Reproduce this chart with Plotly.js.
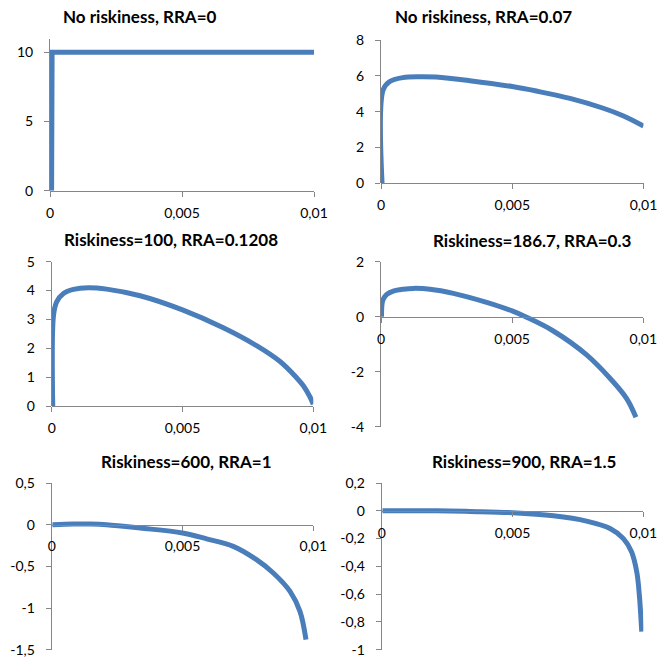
<!DOCTYPE html>
<html>
<head>
<meta charset="utf-8">
<script src="https://cdn.plot.ly/plotly-3.0.1.min.js"></script>
<style>html,body{margin:0;padding:0;background:#fff;}#chart{width:658px;height:662px;}</style>
</head>
<body>
<div id="chart"></div>
<script>
// ---- data ----
var titles = [
  "No riskiness, RRA=0",
  "No riskiness, RRA=0.07",
  "Riskiness=100, RRA=0.1208",
  "Riskiness=186.7, RRA=0.3",
  "Riskiness=600, RRA=1",
  "Riskiness=900, RRA=1.5"
];

var xP1 = [0.00006, 0.00008, 0.01];
var yP1 = [0, 10, 10];

var xP2 = [0.00004, 0.00008, 0.00032, 0.00083, 0.00146, 0.0021, 0.00338, 0.005, 0.00592, 0.0072, 0.00847, 0.00924, 0.01];
var yP2 = [0, 5.21, 5.67, 5.9, 5.95, 5.93, 5.73, 5.40, 5.15, 4.74, 4.19, 3.76, 3.2];

var xP3 = [0.00004, 0.00007, 0.00019, 0.00045, 0.00083, 0.0014, 0.0021, 0.00338, 0.005, 0.00656, 0.00783, 0.00873, 0.00936, 0.00962, 0.00987, 0.01];
var yP3 = [0, 3.15, 3.61, 3.9, 4.04, 4.1, 4.05, 3.82, 3.33, 2.71, 2.09, 1.54, 0.98, 0.7, 0.32, 0.06];

var xP4 = [0.00002, 0.00007, 0.00022, 0.00047, 0.00085, 0.00123, 0.00187, 0.00276, 0.00403, 0.005, 0.00555, 0.00657, 0.00784, 0.00873, 0.00936, 0.00972];
var yP4 = [0, 0.6, 0.81, 0.93, 1.0, 1.03, 1.0, 0.85, 0.52, 0.21, -0.02, -0.52, -1.39, -2.24, -2.97, -3.66];

var xP5 = [0.00003, 0.00083, 0.00146, 0.0021, 0.00338, 0.005, 0.00592, 0.00694, 0.00783, 0.00847, 0.00911, 0.00949, 0.00972];
var yP5 = [0, 0.008, 0.008, 0, -0.04, -0.1, -0.17, -0.26, -0.42, -0.58, -0.8, -1.04, -1.38];

var xP6 = [0.00003, 0.0021, 0.00338, 0.005, 0.00656, 0.00783, 0.00873, 0.00924, 0.00955, 0.00975, 0.00985, 0.00994];
var yP6 = [0, 0, -0.005, -0.014, -0.036, -0.074, -0.127, -0.2, -0.295, -0.44, -0.61, -0.87];

var xTickVals = [0, 0.005, 0.01];
var xTickText = ["0", "0,005", "0,01"];

var yTickVals = [
  [0, 5, 10],
  [0, 2, 4, 6, 8],
  [0, 1, 2, 3, 4, 5],
  [-4, -2, 0, 2],
  [-1.5, -1, -0.5, 0, 0.5],
  [-1, -0.8, -0.6, -0.4, -0.2, 0, 0.2]
];
var yTickText = [
  ["0", "5", "10"],
  ["0", "2", "4", "6", "8"],
  ["0", "1", "2", "3", "4", "5"],
  ["-4", "-2", "0", "2"],
  ["-1,5", "-1", "-0,5", "0", "0,5"],
  ["-1", "-0,8", "-0,6", "-0,4", "-0,2", "0", "0,2"]
];
var yRanges = [[0, 10.94], [0, 8], [0, 5], [-4, 2], [-1.5, 0.5], [-1, 0.2]];

var xs = [xP1, xP2, xP3, xP4, xP5, xP6];
var ys = [yP1, yP2, yP3, yP4, yP5, yP6];

// ---- layout geometry (pixels in 658x662 figure) ----
var W = 658, H = 662;
var boxes = [ // [left, right, top, bottom] of plotting area in px
  [50, 314, 39.3, 190.7],
  [381, 643.5, 40, 183.3],
  [51.7, 313.3, 261.7, 406],
  [381, 643.3, 261.7, 426.7],
  [51.7, 313.3, 483, 649.7],
  [381.7, 643.3, 483, 649.7]
];
var titlePos = [[140, 16.5], [483, 16.5], [171, 239.5], [531.7, 240.5], [186, 461], [524, 461]];

var lineColor = "#4a7ebb";
var axisColor = "#868686";
var tickFont = {family: "Lato, 'Open Sans', sans-serif", size: 14, color: "#000"};

var traces = [];
var layout = {
  width: W, height: H,
  margin: {l: 0, r: 0, t: 0, b: 0},
  paper_bgcolor: "#fff", plot_bgcolor: "rgba(0,0,0,0)",
  showlegend: false,
  annotations: []
};

for (var i = 0; i < 6; i++) {
  var n = i + 1;
  var xa = "x" + (n === 1 ? "" : n), ya = "y" + (n === 1 ? "" : n);
  traces.push({
    type: "scatter", mode: "lines",
    x: xs[i], y: ys[i], xaxis: xa, yaxis: ya,
    line: {color: lineColor, width: 5, shape: i === 0 ? "linear" : "spline", smoothing: 1},
    hoverinfo: "skip"
  });
  var b = boxes[i];
  var yr = yRanges[i];
  var zeroPx = b[3] - (0 - yr[0]) / (yr[1] - yr[0]) * (b[3] - b[2]);
  layout["xaxis" + (n === 1 ? "" : n)] = {
    domain: [b[0] / W, b[1] / W],
    range: [0, 0.01],
    anchor: "free",
    position: 1 - zeroPx / H,
    showgrid: false, zeroline: false,
    showline: true, linecolor: axisColor, linewidth: 1,
    ticks: "outside", ticklen: 5, tickcolor: axisColor, tickwidth: 1,
    tickvals: xTickVals, ticktext: xTickText,
    tickfont: tickFont, ticklabelstandoff: 4,
    fixedrange: true
  };
  layout["yaxis" + (n === 1 ? "" : n)] = {
    domain: [1 - b[3] / H, 1 - b[2] / H],
    range: yr,
    anchor: xa,
    showgrid: false, zeroline: false,
    showline: true, linecolor: axisColor, linewidth: 1,
    ticks: "outside", ticklen: 5, tickcolor: axisColor, tickwidth: 1,
    tickvals: yTickVals[i], ticktext: yTickText[i],
    tickfont: tickFont, ticklabelstandoff: 8,
    fixedrange: true
  };
  layout.annotations.push({
    text: "<b>" + titles[i] + "</b>",
    xref: "paper", yref: "paper",
    x: titlePos[i][0] / W, y: 1 - titlePos[i][1] / H,
    xanchor: "center", yanchor: "middle",
    showarrow: false,
    font: {family: "Lato, 'Open Sans', sans-serif", size: 17, color: "#000"}
  });
}

Plotly.newPlot("chart", traces, layout, {displayModeBar: false, staticPlot: true});
</script>
</body>
</html>
